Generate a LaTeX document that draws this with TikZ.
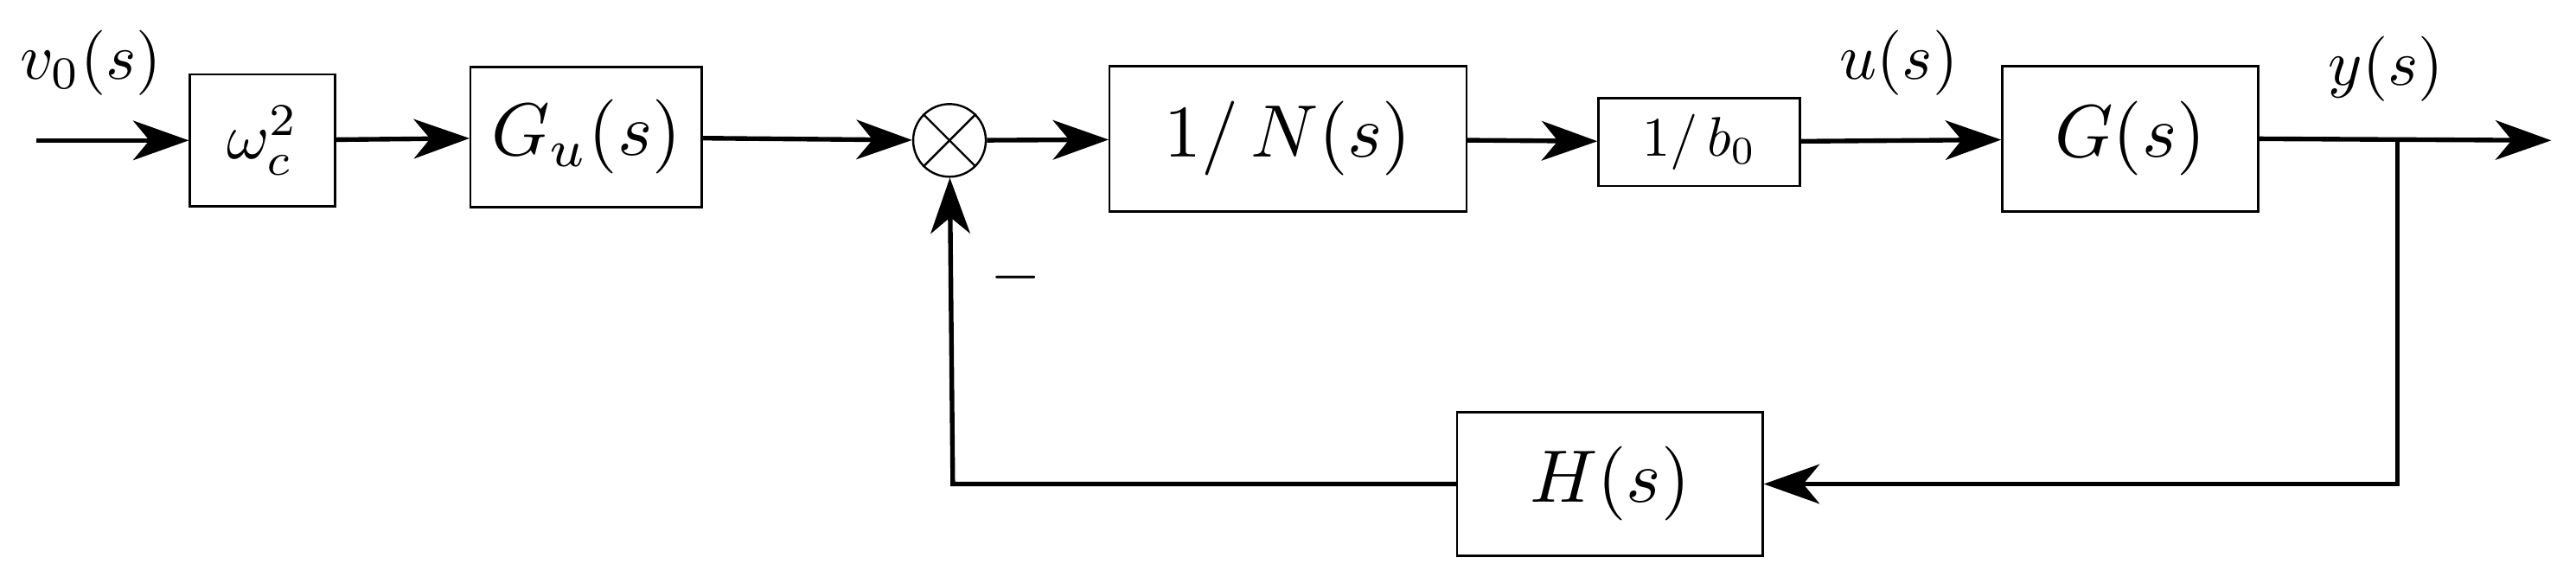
\documentclass[tikz,border=0pt]{standalone}
\usepackage{graphicx}
\usetikzlibrary{arrows.meta}
\newcommand{\bg}[2]{\scalebox{#1}{$#2$}}
\begin{document}
\begin{tikzpicture}[x=0.05cm,y=-0.05cm,
  blk/.style={draw,line width=1.8pt,inner sep=0pt},
  ln/.style={line width=4pt},
  arr/.style={ln,-{Stealth[length=48pt,width=34pt,inset=14pt]}}]
\useasboundingbox (0,0) rectangle (1560,349);
\coordinate (in) at (22,85);
\node[blk,minimum width=88*0.05cm,minimum height=80*0.05cm] (w) at (159,85) {\bg{5.6}{\omega_c^2}};
\node[blk,minimum width=140*0.05cm,minimum height=85*0.05cm] (gu) at (355,83) {\bg{6.4}{G_u\!\left(s\right)}};
\node[draw,circle,line width=1.8pt,minimum size=44*0.05cm,inner sep=0pt] (sum) at (575,85) {};
\draw[line width=1.8pt] (sum.north west)--(sum.south east) (sum.north east)--(sum.south west);
\node[blk,minimum width=216*0.05cm,minimum height=88*0.05cm] (n) at (780,84) {\bg{6.4}{1/\,N\!\left(s\right)}};
\node[blk,minimum width=122*0.05cm,minimum height=53*0.05cm] (b) at (1029,86) {\bg{4.8}{1/\,b_0}};
\node[blk,minimum width=155*0.05cm,minimum height=88*0.05cm] (g) at (1290,84) {\bg{6.4}{G\!\left(s\right)}};
\node[blk,minimum width=185*0.05cm,minimum height=87*0.05cm] (h) at (975,293) {\bg{6.4}{H\!\left(s\right)}};
\coordinate (out) at (1545,85);
\coordinate (br) at (1452,85);
\coordinate (c1) at (1452,293);
\coordinate (c2) at (577,293);
\draw[arr] (in) -- (w);
\draw[arr] (w) -- (gu);
\draw[arr] (gu) -- (sum);
\draw[arr] (sum) -- (n);
\draw[arr] (n) -- (b);
\draw[arr] (b) -- (g);
\draw[arr] (g.east) -- (out);
\draw[arr] (br) -- (c1) -- (h);
\draw[arr] (h) -- (c2) -- (sum);
\node (lv) at (55,38) {\bg{5.6}{v_0\!\left(s\right)}};
\node (lu) at (1150,38) {\bg{5.6}{u\!\left(s\right)}};
\node (ly) at (1445,42) {\bg{5.6}{y\!\left(s\right)}};
\node (lm) at (615,168) {\bg{5.6}{-}};
\end{tikzpicture}
\end{document}
